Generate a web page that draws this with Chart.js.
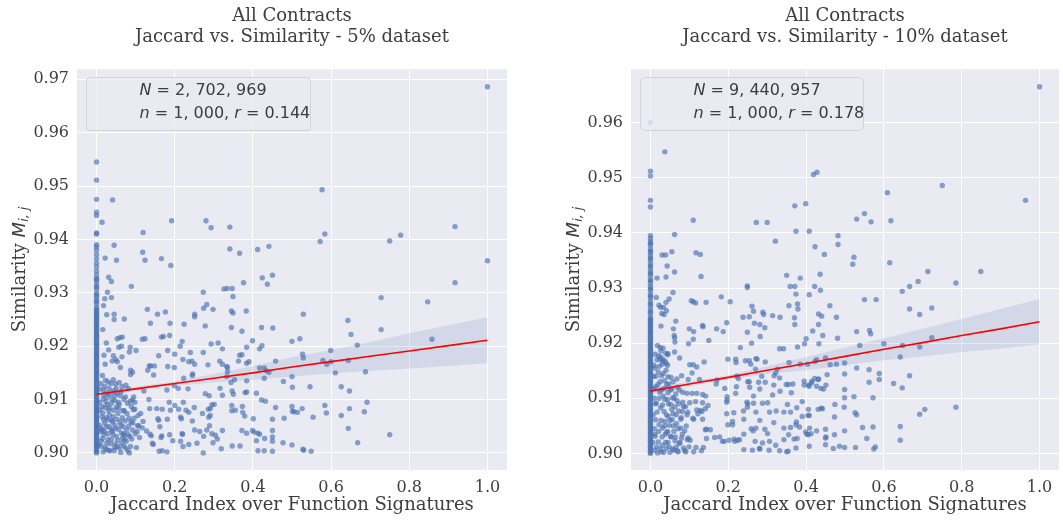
<!DOCTYPE html>
<html>
<head>
<meta charset="utf-8">
<script src="https://cdn.jsdelivr.net/npm/chart.js@4.4.1/dist/chart.umd.min.js"></script>
<style>
  body { margin: 0; background: #fff; width: 1063px; height: 521px; overflow: hidden; position: relative; }
  .pane { position: absolute; top: 0; height: 521px; }
</style>
</head>
<body>
<div class="pane" style="left:0;width:531px"><canvas id="c5" width="531" height="521"></canvas></div>
<div class="pane" style="left:554px;width:509px"><canvas id="c10" width="509" height="521"></canvas></div>
<script>
// ---- data ----
const xTicks = [0.0, 0.2, 0.4, 0.6, 0.8, 1.0];
const yTicks5 = [0.90, 0.91, 0.92, 0.93, 0.94, 0.95, 0.96, 0.97];
const yTicks10 = [0.90, 0.91, 0.92, 0.93, 0.94, 0.95, 0.96];

const titles5 = ["All Contracts", "Jaccard vs. Similarity - 5% dataset"];
const titles10 = ["All Contracts", "Jaccard vs. Similarity - 10% dataset"];
const xLabel = "Jaccard Index over Function Signatures";
// y label: "Similarity M_{i,j}" as text segments
const yLabel = [{ t: "Similarity " }, { t: "M", it: true }, { t: "i, j", it: true, sub: true }];

// annotation text (segments flagged `it` are italic math symbols)
const note5 = [
  [{ t: "N", it: true }, { t: " = 2, 702, 969" }],
  [{ t: "n", it: true }, { t: " = 1, 000, " }, { t: "r", it: true }, { t: " = 0.144" }],
];
const note10 = [
  [{ t: "N", it: true }, { t: " = 9, 440, 957" }],
  [{ t: "n", it: true }, { t: " = 1, 000, " }, { t: "r", it: true }, { t: " = 0.178" }],
];

// regression line + 95% band, sampled at fitX
const fitX = [0, 0.1, 0.2, 0.3, 0.4, 0.5, 0.6, 0.7, 0.8, 0.9, 1.0];
const fit5 = [0.9110, 0.9120, 0.9130, 0.9140, 0.9150, 0.9161, 0.9171, 0.9181, 0.9191, 0.9201, 0.9211];
const hi5  = [0.9116, 0.9124, 0.9134, 0.9148, 0.9163, 0.9179, 0.9193, 0.9208, 0.9224, 0.9239, 0.9254];
const lo5  = [0.9104, 0.9116, 0.9126, 0.9132, 0.9137, 0.9143, 0.9149, 0.9154, 0.9158, 0.9163, 0.9168];
const fit10 = [0.9113, 0.9126, 0.9138, 0.9151, 0.9163, 0.9176, 0.9189, 0.9201, 0.9214, 0.9226, 0.9239];
const hi10  = [0.9119, 0.9130, 0.9142, 0.9158, 0.9175, 0.9192, 0.9209, 0.9226, 0.9244, 0.9262, 0.9280];
const lo10  = [0.9107, 0.9122, 0.9134, 0.9144, 0.9151, 0.9160, 0.9169, 0.9176, 0.9184, 0.9190, 0.9198];

// samples with Jaccard index exactly 0 (dense column on the left edge)
const zero5 = [0.9000, 0.9005, 0.9011, 0.9016, 0.9022, 0.9028, 0.9033, 0.9039, 0.9045, 0.9050, 0.9056, 0.9062,
  0.9067, 0.9073, 0.9079, 0.9084, 0.9090, 0.9096, 0.9101, 0.9107, 0.9113, 0.9118, 0.9124, 0.9130, 0.9135, 0.9141,
  0.9147, 0.9152, 0.9158, 0.9164, 0.9169, 0.9175, 0.9181, 0.9186, 0.9192, 0.9198, 0.9203, 0.9209, 0.9215, 0.9220,
  0.9226, 0.9232, 0.9237, 0.9243, 0.9249, 0.9254, 0.9260, 0.9266, 0.9272, 0.9279, 0.9286, 0.9292, 0.9299, 0.9307,
  0.9314, 0.9321, 0.9327, 0.9334, 0.9341, 0.9349, 0.9356, 0.9364, 0.9372, 0.9380, 0.9386, 0.9390, 0.9410, 0.9412,
  0.9445, 0.9451, 0.9475, 0.9511, 0.9545,
  0.9002, 0.9008, 0.9014, 0.9019, 0.9025, 0.9030, 0.9036, 0.9042, 0.9047, 0.9053, 0.9059, 0.9064, 0.9070, 0.9076,
  0.9081, 0.9087, 0.9093, 0.9098, 0.9104, 0.9110, 0.9115, 0.9121, 0.9127, 0.9133, 0.9138, 0.9144, 0.9150, 0.9155,
  0.9161, 0.9167, 0.9172, 0.9178, 0.9184, 0.9189, 0.9195, 0.9201, 0.9206, 0.9212, 0.9218, 0.9223, 0.9229, 0.9235,
  0.9240, 0.9246, 0.9252, 0.9257, 0.9263, 0.9269, 0.9283, 0.9296, 0.9311, 0.9325];
const zero10 = [0.9000, 0.9005, 0.9011, 0.9016, 0.9022, 0.9027, 0.9033, 0.9038, 0.9044, 0.9049, 0.9055, 0.9060,
  0.9066, 0.9071, 0.9077, 0.9082, 0.9088, 0.9093, 0.9099, 0.9104, 0.9110, 0.9115, 0.9121, 0.9126, 0.9132, 0.9137,
  0.9143, 0.9148, 0.9154, 0.9159, 0.9165, 0.9170, 0.9176, 0.9181, 0.9187, 0.9192, 0.9198, 0.9203, 0.9209, 0.9214,
  0.9220, 0.9225, 0.9231, 0.9236, 0.9242, 0.9247, 0.9254, 0.9261, 0.9268, 0.9275, 0.9282, 0.9289, 0.9296, 0.9303,
  0.9309, 0.9316, 0.9323, 0.9330, 0.9337, 0.9344, 0.9351, 0.9358, 0.9364, 0.9371, 0.9378, 0.9384, 0.9390, 0.9395,
  0.9447, 0.9459, 0.9503, 0.9512, 0.9600,
  0.9002, 0.9008, 0.9013, 0.9019, 0.9024, 0.9030, 0.9035, 0.9041, 0.9046, 0.9052, 0.9057, 0.9063, 0.9068, 0.9074,
  0.9079, 0.9085, 0.9090, 0.9096, 0.9101, 0.9107, 0.9112, 0.9118, 0.9123, 0.9129, 0.9134, 0.9140, 0.9145, 0.9151,
  0.9156, 0.9162, 0.9167, 0.9173, 0.9178, 0.9184, 0.9189, 0.9195, 0.9200, 0.9206, 0.9211, 0.9217, 0.9222, 0.9228,
  0.9233, 0.9239, 0.9244, 0.9257, 0.9271, 0.9285, 0.9299, 0.9313, 0.9327, 0.9340, 0.9354, 0.9367, 0.9381];

// other samples [jaccard, similarity]
const pts5 = [
  [1.0,0.9686],[0.041,0.9474],[0.014,0.9432],[0.577,0.9493],[0.192,0.9435],[0.280,0.9435],[0.293,0.9422],[0.341,0.9423],
  [0.119,0.9413],[0.584,0.941],[0.572,0.9396],[0.917,0.9424],[0.778,0.9408],[0.750,0.9397],[1.0,0.936],[0.045,0.9389],
  [0.022,0.9365],[0.051,0.9361],[0.118,0.9376],[0.124,0.9361],[0.166,0.9364],[0.190,0.9351],[0.341,0.9382],[0.366,0.9374],
  [0.412,0.9381],[0.441,0.9387],[0.424,0.9328],[0.450,0.9333],[0.437,0.9316],[0.376,0.9319],[0.917,0.9319],[0.728,0.9291],
  [0.847,0.9283],[0.031,0.9329],[0.038,0.9321],[0.089,0.9312],[0.028,0.9301],[0.038,0.9291],[0.021,0.9289],[0.018,0.9276],
  [0.326,0.9307],[0.334,0.9308],[0.347,0.9308],[0.273,0.9301],[0.349,0.9293],[0.282,0.9278],[0.274,0.9271],[0.298,0.9269],
  [0.130,0.9269],[0.176,0.9264],[0.156,0.926],[0.251,0.926],[0.251,0.9255],[0.345,0.9266],[0.349,0.9262],[0.383,0.9266],
  [0.529,0.926],[0.045,0.926],[0.026,0.9259],[0.071,0.9251],[0.045,0.925],[0.643,0.9248],[0.138,0.9243],[0.188,0.9243],
  [0.224,0.9241],[0.278,0.9238],[0.345,0.9235],[0.422,0.9235],[0.451,0.9234],[0.372,0.9228],[0.728,0.9231],[0.016,0.9231],
  [0.651,0.9222],[0.187,0.922],[0.171,0.9218],[0.166,0.9217],[0.124,0.9214],[0.117,0.9213],[0.060,0.9216],[0.053,0.9214],
  [0.066,0.9217],[0.520,0.9214],[0.858,0.9213],[0.500,0.9209],[0.399,0.921],[0.219,0.9209],[0.025,0.9206],[0.667,0.9202],
  [0.293,0.9204],[0.311,0.9206],[0.214,0.92],[0.423,0.9201],[0.384,0.9198],[0.417,0.9195],[0.064,0.92],[0.057,0.9198],
  [0.031,0.9193],[0.086,0.9198],[0.101,0.9192],[0.322,0.9195],[0.182,0.9192],[0.084,0.9189],[0.240,0.9188],[0.273,0.9188],
  [0.599,0.9192],[0.527,0.9185],[0.529,0.9178],[0.200,0.9185],[0.159,0.9182],[0.372,0.9184],[0.366,0.9183],[0.019,0.9183],
  [0.043,0.9182],[0.065,0.918],[0.049,0.9175],[0.040,0.9172],[0.053,0.9171],[0.022,0.9166],[0.221,0.9175],[0.236,0.9171],
  [0.244,0.9172],[0.251,0.9166],[0.315,0.9172],[0.322,0.9166],[0.333,0.9162],[0.285,0.9165],[0.384,0.9168],[0.390,0.9171],
  [0.458,0.9172],[0.579,0.9173],[0.589,0.9166],[0.600,0.9171],[0.644,0.9173],[0.363,0.9172],[0.182,0.9162],[0.138,0.9163],
  [0.148,0.9163],[0.087,0.9155],[0.092,0.9151],[0.087,0.9147],[0.061,0.916],[0.015,0.9145],[0.131,0.9155],[0.135,0.9163],
  [0.146,0.9146],[0.335,0.916],[0.417,0.9159],[0.429,0.9159],[0.434,0.9154],[0.441,0.9151],[0.611,0.915],[0.688,0.9152],
  [0.199,0.916],[0.223,0.914],[0.245,0.9145],[0.246,0.9148],[0.333,0.9143],[0.335,0.9152],[0.353,0.9137],[0.384,0.9135],
  [0.429,0.914],[0.5,0.9143],[0.501,0.9123],[0.478,0.9134],[0.546,0.9124],[0.626,0.9124],[0.647,0.9116],[0.692,0.9095],
  [0.584,0.9089],[0.588,0.9075],[0.647,0.9083],[0.685,0.9077],[0.626,0.907],[0.644,0.9046],[0.750,0.9034],[0.668,0.9019],
  [0.554,0.9067],[0.526,0.9083],[0.500,0.9087],[0.501,0.9078],[0.505,0.9077],[0.514,0.9076],[0.480,0.9065],[0.458,0.9085],
  [0.450,0.9063],[0.450,0.9042],[0.450,0.903],[0.450,0.9022],[0.450,0.9003],[0.422,0.9099],[0.432,0.9097],[0.409,0.9112],
  [0.380,0.9113],[0.384,0.9114],[0.347,0.9116],[0.350,0.911],[0.322,0.9108],[0.373,0.9087],[0.379,0.9069],[0.374,0.9076],
  [0.401,0.9064],[0.346,0.9089],[0.346,0.9079],[0.355,0.908],[0.295,0.909],[0.301,0.9091],[0.291,0.9083],[0.286,0.9082],
  [0.287,0.9067],[0.291,0.907],[0.271,0.9074],[0.289,0.9051],[0.282,0.9043],[0.295,0.9036],[0.304,0.9033],[0.309,0.9026],
  [0.274,0.9031],[0.298,0.9019],[0.319,0.9008],[0.273,0.9],[0.347,0.9013],[0.367,0.9013],[0.372,0.9042],[0.384,0.9037],
  [0.399,0.9042],[0.403,0.9039],[0.413,0.9037],[0.417,0.9035],[0.409,0.9023],[0.413,0.9004],[0.429,0.9004],[0.477,0.9019],
  [0.5,0.9015],[0.528,0.9007],[0.530,0.9005],[0.549,0.9003],[0.430,0.9027],[0.322,0.9042],[0.229,0.908],[0.250,0.9085],
  [0.236,0.9076],[0.245,0.906],[0.215,0.9067],[0.217,0.9064],[0.210,0.9082],[0.200,0.9089],[0.189,0.908],[0.181,0.9063],
  [0.168,0.9082],[0.154,0.9083],[0.159,0.9061],[0.157,0.9064],[0.162,0.9049],[0.167,0.9032],[0.165,0.9029],[0.187,0.9034],
  [0.195,0.9023],[0.215,0.9022],[0.219,0.9036],[0.220,0.9035],[0.221,0.9012],[0.257,0.9018],[0.236,0.9016],[0.264,0.904],
  [0.251,0.9043],[0.136,0.9083],[0.134,0.91],[0.121,0.9116],[0.180,0.9118],[0.199,0.9126],[0.209,0.9121],[0.234,0.912],
  [0.222,0.9095],[0.186,0.9095],[0.278,0.9111],[0.288,0.9107],[0.316,0.9121],[0.344,0.9132],[0.113,0.9074],[0.119,0.9059],
  [0.108,0.9051],[0.105,0.9051],[0.117,0.9047],[0.098,0.9082],[0.098,0.9095],[0.095,0.9105],[0.092,0.9099],[0.071,0.9079],
  [0.083,0.9065],[0.093,0.9056],[0.128,0.9041],[0.137,0.9035],[0.143,0.9018],[0.145,0.9016],[0.140,0.9032],[0.160,0.9003],
  [0.168,0.9004],[0.180,0.9002],
  // dense cluster near the origin
  [0.017,0.9101],[0.024,0.9096],[0.028,0.9090],[0.034,0.9084],[0.038,0.9093],[0.047,0.9098],[0.051,0.9086],[0.055,0.9074],
  [0.043,0.9068],[0.030,0.9062],[0.021,0.9055],[0.026,0.9049],[0.038,0.9043],[0.047,0.9052],[0.060,0.9058],[0.068,0.9049],
  [0.077,0.9043],[0.064,0.9037],[0.051,0.9031],[0.038,0.9025],[0.026,0.9018],[0.019,0.9034],[0.013,0.9012],[0.024,0.9006],
  [0.034,0.9004],[0.045,0.9004],[0.053,0.9012],[0.064,0.9018],[0.072,0.9025],[0.081,0.9034],[0.087,0.9012],[0.075,0.9009],
  [0.085,0.9031],[0.092,0.9043],[0.096,0.9065],[0.104,0.9040],[0.089,0.9087],[0.079,0.9093],[0.070,0.9100],[0.061,0.9107],
  [0.053,0.9112],[0.043,0.9116],[0.032,0.9121],[0.021,0.9125],[0.030,0.9133],[0.043,0.9137],[0.037,0.9130],[0.049,0.9129],
  [0.058,0.9132],[0.065,0.9124],[0.075,0.9127],[0.081,0.9121],[0.028,0.9112],[0.019,0.9109],[0.014,0.9087],[0.014,0.9068],
  [0.015,0.9043],[0.015,0.9027],[0.017,0.9002],[0.009,0.9080],[0.008,0.9120],[0.010,0.9040],[0.033,0.9071],[0.058,0.9091],
  [0.066,0.9066],[0.041,0.9058],[0.029,0.9036],[0.056,0.9044],[0.071,0.9033],[0.048,0.9017],[0.062,0.9001],[0.080,0.9004],
  [0.006,0.9015],[0.007,0.9052],[0.008,0.9095],[0.011,0.9130],[0.012,0.9022],[0.016,0.9075],[0.018,0.9118],[0.020,0.9040],
  [0.022,0.9085],[0.023,0.9010],[0.025,0.9066],[0.027,0.9104],[0.029,0.9025],[0.031,0.9079],[0.032,0.9005],[0.033,0.9049],
  [0.035,0.9110],[0.036,0.9017],[0.039,0.9061],[0.040,0.9101],[0.042,0.9034],[0.044,0.9080],[0.046,0.9010],[0.048,0.9046],
  [0.050,0.9121],[0.052,0.9063],[0.054,0.9024],[0.057,0.9083],[0.059,0.9009],[0.062,0.9052],[0.063,0.9115],[0.066,0.9027],
  [0.068,0.9079],[0.070,0.9013],[0.073,0.9060],[0.074,0.9105],[0.076,0.9022],[0.078,0.9074],[0.082,0.9050],[0.084,0.9000],
  [0.086,0.9097],[0.090,0.9026],[0.094,0.9081],[0.099,0.9036],[0.102,0.9010],[0.106,0.9070],[0.110,0.9029],[0.012,0.9046],
  [0.018,0.9062],[0.041,0.9040],[0.056,0.9095],[0.023,0.9136],[0.047,0.9107],[0.069,0.9036],[0.088,0.9058],
];

const pts10 = [
  [1.0,0.9665],[0.037,0.9547],[0.419,0.9506],[0.428,0.951],[0.75,0.9486],[0.609,0.9473],[0.964,0.9459],[0.399,0.9453],
  [0.371,0.9449],[0.55,0.9435],[0.53,0.9425],[0.567,0.942],[0.618,0.9422],[0.110,0.9423],[0.272,0.9419],[0.300,0.9419],
  [0.374,0.9403],[0.408,0.9403],[0.482,0.9395],[0.062,0.9397],[0.321,0.9385],[0.482,0.9379],[0.423,0.9375],[0.117,0.9364],
  [0.128,0.9361],[0.030,0.936],[0.039,0.936],[0.055,0.9366],[0.447,0.9361],[0.523,0.9356],[0.043,0.934],[0.520,0.9343],
  [0.615,0.9346],[0.062,0.9329],[0.040,0.932],[0.017,0.9318],[0.130,0.9321],[0.713,0.933],[0.849,0.933],[0.350,0.9323],
  [0.385,0.9318],[0.436,0.9325],[0.249,0.9304],[0.249,0.9301],[0.359,0.9303],[0.371,0.9303],[0.422,0.9303],[0.437,0.9296],
  [0.374,0.9289],[0.408,0.9288],[0.785,0.9309],[0.688,0.9312],[0.666,0.9303],[0.647,0.9294],[0.058,0.9292],[0.015,0.9283],
  [0.048,0.928],[0.040,0.9274],[0.182,0.9284],[0.205,0.9275],[0.105,0.9277],[0.110,0.9275],[0.116,0.9273],[0.143,0.9274],
  [0.550,0.9279],[0.580,0.9279],[0.022,0.9269],[0.026,0.9265],[0.034,0.9265],[0.261,0.9267],[0.265,0.9258],[0.356,0.9268],
  [0.378,0.9271],[0.379,0.9262],[0.461,0.9268],[0.666,0.9262],[0.723,0.9264],[0.029,0.9254],[0.035,0.9252],[0.041,0.9259],
  [0.289,0.9256],[0.291,0.9252],[0.314,0.925],[0.333,0.9247],[0.238,0.9247],[0.254,0.9248],[0.432,0.9253],[0.440,0.9249],
  [0.478,0.9247],[0.692,0.9252],[0.065,0.924],[0.027,0.9231],[0.196,0.9237],[0.267,0.9236],[0.281,0.9234],[0.294,0.9228],
  [0.370,0.9246],[0.371,0.9234],[0.432,0.9234],[0.134,0.9232],[0.135,0.923],[0.100,0.9226],[0.111,0.9221],[0.059,0.9226],
  [0.170,0.9226],[0.187,0.9221],[0.249,0.922],[0.417,0.9222],[0.530,0.9221],[0.563,0.9223],[0.566,0.9217],[0.061,0.9214],
  [0.062,0.921],[0.282,0.9212],[0.110,0.9207],[0.150,0.9205],[0.443,0.9214],[0.481,0.9209],[0.723,0.921],[0.400,0.9208],
  [0.396,0.9199],[0.433,0.9199],[0.600,0.9199],[0.538,0.9196],[0.063,0.9202],[0.260,0.92],[0.098,0.9199],[0.648,0.9196],
  [0.692,0.9193],[0.018,0.9196],[0.025,0.9192],[0.032,0.9191],[0.378,0.9193],[0.332,0.919],[0.342,0.919],[0.231,0.9192],
  [0.027,0.9186],[0.039,0.9182],[0.021,0.9177],[0.025,0.9171],[0.032,0.9171],[0.032,0.9167],[0.038,0.9167],[0.041,0.9163],
  [0.045,0.9181],[0.044,0.9179],[0.062,0.9184],[0.075,0.9173],[0.642,0.9175],[0.199,0.9171],[0.219,0.9171],[0.220,0.9165],
  [0.244,0.9168],[0.254,0.9168],[0.258,0.9162],[0.271,0.9172],[0.274,0.9171],[0.295,0.9166],[0.427,0.917],[0.423,0.9167],
  [0.450,0.9173],[0.138,0.9166],[0.356,0.9165],[0.385,0.9162],[0.404,0.9162],[0.462,0.9161],[0.478,0.9162],[0.499,0.9164],
  [0.101,0.9161],[0.110,0.9161],[0.119,0.9157],[0.270,0.9153],[0.326,0.9153],[0.322,0.9146],[0.530,0.9155],[0.562,0.9152],
  [0.588,0.9145],[0.107,0.9146],[0.080,0.9141],[0.068,0.9135],[0.045,0.9139],[0.053,0.9138],[0.499,0.9144],[0.454,0.9143],
  [0.666,0.9141],[0.222,0.914],[0.126,0.9134],[0.097,0.9134],[0.171,0.9133],[0.226,0.9136],[0.286,0.914],[0.318,0.9141],
  [0.332,0.9137],[0.422,0.9136],[0.432,0.9135],[0.431,0.9134],[0.415,0.9131],[0.414,0.9128],[0.451,0.9124],[0.395,0.9131],
  [0.588,0.9134],[0.562,0.9129],[0.625,0.9127],[0.647,0.9119],[0.250,0.913],[0.254,0.913],[0.278,0.9129],[0.295,0.9129],
  [0.317,0.9124],[0.349,0.9125],[0.355,0.9125],[0.366,0.9126],[0.395,0.9124],[0.406,0.9124],[0.408,0.9122],[0.427,0.9122],
  [0.438,0.9118],[0.445,0.9117],[0.499,0.9116],[0.169,0.9126],[0.191,0.9118],[0.221,0.9121],[0.255,0.912],[0.281,0.9117],
  [0.333,0.9113],[0.362,0.911],[0.094,0.9109],[0.107,0.9109],[0.119,0.9109],[0.134,0.9107],[0.142,0.9104],[0.197,0.9103],
  [0.219,0.9109],[0.265,0.9104],[0.314,0.9106],[0.390,0.9094],[0.499,0.9101],[0.523,0.9103],[0.572,0.9101],[0.083,0.9093],
  [0.101,0.9092],[0.116,0.9094],[0.134,0.9092],[0.196,0.9093],[0.197,0.9097],[0.248,0.9093],[0.250,0.909],[0.249,0.9084],
  [0.265,0.9091],[0.288,0.9091],[0.301,0.9092],[0.352,0.9089],[0.376,0.9083],[0.406,0.908],[0.405,0.9069],[0.431,0.908],
  [0.439,0.9082],[0.442,0.9081],[0.474,0.9089],[0.498,0.9084],[0.526,0.9074],[0.530,0.907],[0.692,0.9071],[0.705,0.908],
  [0.785,0.9084],[0.082,0.9076],[0.094,0.9070],[0.119,0.9079],[0.122,0.9072],[0.128,0.9078],[0.132,0.9076],[0.141,0.9081],
  [0.148,0.9087],[0.109,0.9064],[0.111,0.9062],[0.134,0.9062],[0.196,0.9072],[0.214,0.9074],[0.239,0.9077],[0.271,0.9075],
  [0.306,0.9075],[0.323,0.9077],[0.343,0.9075],[0.360,0.9075],[0.390,0.9067],[0.408,0.9069],[0.473,0.9066],[0.211,0.9058],
  [0.240,0.9062],[0.281,0.906],[0.317,0.9056],[0.375,0.9057],[0.374,0.9052],[0.383,0.9048],[0.360,0.9047],[0.343,0.9046],
  [0.211,0.9052],[0.199,0.9052],[0.259,0.9045],[0.264,0.9041],[0.271,0.9046],[0.294,0.9044],[0.301,0.9036],[0.399,0.9039],
  [0.402,0.9035],[0.406,0.9034],[0.413,0.9036],[0.409,0.9046],[0.427,0.9041],[0.450,0.9044],[0.451,0.903],[0.450,0.9028],
  [0.450,0.9016],[0.473,0.9034],[0.499,0.9041],[0.545,0.9047],[0.572,0.9048],[0.556,0.9027],[0.642,0.9049],[0.642,0.9024],
  [0.141,0.9043],[0.144,0.9044],[0.154,0.9043],[0.165,0.9029],[0.178,0.903],[0.144,0.9027],[0.185,0.9022],[0.190,0.9022],
  [0.202,0.9024],[0.215,0.9026],[0.217,0.9022],[0.224,0.9024],[0.229,0.9025],[0.240,0.9035],[0.269,0.9022],[0.288,0.9019],
  [0.306,0.9022],[0.322,0.9015],[0.343,0.9025],[0.369,0.9026],[0.355,0.9034],[0.377,0.9027],[0.240,0.9007],[0.262,0.9006],
  [0.280,0.9009],[0.281,0.9008],[0.305,0.9006],[0.332,0.9005],[0.350,0.9003],[0.354,0.9004],[0.374,0.901],[0.408,0.9013],
  [0.470,0.9009],[0.486,0.9013],[0.499,0.9011],[0.527,0.9011],[0.574,0.9008],[0.578,0.9012],[0.091,0.9003],[0.111,0.9003],
  [0.131,0.9005],[0.117,0.9011],[0.136,0.9011],[0.097,0.9028],[0.102,0.9024],
  // dense cluster near the origin
  [0.012,0.9155],[0.020,0.9148],[0.028,0.9141],[0.036,0.9132],[0.047,0.9126],[0.055,0.9117],[0.014,0.9121],[0.024,0.9111],
  [0.033,0.9104],[0.044,0.9098],[0.052,0.9089],[0.063,0.9085],[0.072,0.9077],[0.015,0.9091],[0.026,0.9083],[0.035,0.9076],
  [0.046,0.9067],[0.056,0.9061],[0.067,0.9054],[0.078,0.9046],[0.088,0.9041],[0.013,0.9061],[0.022,0.9052],[0.031,0.9046],
  [0.042,0.9038],[0.052,0.9031],[0.063,0.9023],[0.074,0.9018],[0.085,0.9010],[0.012,0.9031],[0.020,0.9021],[0.031,0.9015],
  [0.040,0.9009],[0.050,0.9002],[0.060,0.9006],[0.071,0.9003],[0.011,0.9006],[0.018,0.9001],[0.028,0.9003],[0.038,0.9035],
  [0.048,0.9051],[0.058,0.9072],[0.068,0.9096],[0.078,0.9062],[0.090,0.9085],[0.095,0.9025],[0.083,0.9111],[0.065,0.9108],
  [0.040,0.9151],[0.030,0.9162],[0.017,0.9170],[0.009,0.9100],[0.008,0.9140],[0.010,0.9045],[0.035,0.9118],[0.057,0.9101],
  [0.070,0.9120],[0.045,0.9110],[0.025,0.9130],[0.060,0.9040],[0.045,0.9020],[0.080,0.9028],[0.066,0.9012],[0.037,0.9058],
  [0.006,0.9020],[0.007,0.9070],[0.008,0.9118],[0.009,0.9160],[0.011,0.9035],[0.013,0.9090],[0.014,0.9140],[0.016,0.9012],
  [0.017,0.9075],[0.019,0.9125],[0.021,0.9040],[0.022,0.9100],[0.023,0.9158],[0.025,0.9008],[0.027,0.9060],[0.028,0.9115],
  [0.030,0.9030],[0.031,0.9088],[0.033,0.9145],[0.034,0.9002],[0.036,0.9050],[0.037,0.9098],[0.039,0.9020],[0.041,0.9070],
  [0.042,0.9125],[0.044,0.9040],[0.046,0.9090],[0.048,0.9012],[0.050,0.9060],[0.051,0.9115],[0.053,0.9030],[0.055,0.9080],
  [0.057,0.9008],[0.059,0.9050],[0.061,0.9100],[0.064,0.9030],[0.066,0.9070],[0.069,0.9005],[0.071,0.9045],[0.073,0.9090],
  [0.076,0.9020],[0.079,0.9065],[0.082,0.9035],[0.085,0.9085],[0.088,0.9005],[0.092,0.9050],[0.096,0.9075],[0.099,0.9012],
  [0.026,0.9175],[0.044,0.9160],[0.012,0.9180],[0.058,0.9130],[0.074,0.9115],
];

const TEXT = "#3d3d3d";

// ---- plugins ----
const bgPlugin = {
  id: "bg",
  beforeDraw(chart) {
    const { ctx, chartArea: a } = chart;
    ctx.save();
    ctx.fillStyle = "#EAEAF2";
    ctx.fillRect(a.left, a.top, a.width, a.height);
    ctx.restore();
  },
};

// mixed upright/italic/subscript text runs
function runFont(s, size) {
  const sz = s.sub ? size * 0.7 : size;
  const fam = s.serif ? "'DejaVu Serif'" : "'DejaVu Sans'";
  return (s.it ? "italic " : "") + sz + "px " + fam;
}
function drawRuns(ctx, runs, x, y, size) {
  runs.forEach((s) => {
    ctx.font = runFont(s, size);
    ctx.fillText(s.t, x, y + (s.sub ? size * 0.28 : 0));
    x += ctx.measureText(s.t).width;
  });
}
function runsWidth(ctx, runs, size) {
  let w = 0;
  runs.forEach((s) => { ctx.font = runFont(s, size); w += ctx.measureText(s.t).width; });
  return w;
}

const notePlugin = {
  id: "note",
  afterDraw(chart, args, o) {
    const a = chart.chartArea, ctx = chart.ctx;
    const x = Math.round(a.left + o.left) + 0.5, y = Math.round(a.top + o.top) + 0.5;
    ctx.save();
    ctx.beginPath();
    ctx.roundRect(x, y, o.width, o.height, 4);
    ctx.fillStyle = "rgba(234,234,242,0.8)";
    ctx.fill();
    ctx.strokeStyle = "#d3d3db";
    ctx.lineWidth = 1;
    ctx.stroke();
    ctx.fillStyle = TEXT;
    ctx.textBaseline = "middle";
    o.lines.forEach((segs, i) => drawRuns(ctx, segs, x + o.textLeft, y + o.lineY[i], 16));
    ctx.restore();
  },
};

// rotated y-axis label with math subscript
const yLabPlugin = {
  id: "ylab",
  afterDraw(chart, args, o) {
    const a = chart.chartArea, ctx = chart.ctx;
    const runs = yLabel.map((s) => Object.assign({ serif: !s.it && !s.sub }, s));
    ctx.save();
    ctx.translate(o.x, (a.top + a.bottom) / 2);
    ctx.rotate(-Math.PI / 2);
    ctx.fillStyle = TEXT;
    ctx.textBaseline = "middle";
    const w = runsWidth(ctx, runs, 18);
    drawRuns(ctx, runs, -w / 2, 0, 18);
    ctx.restore();
  },
};

Chart.defaults.font.family = "'DejaVu Serif', serif";
Chart.defaults.color = TEXT;

function makeChart(id, cfg) {
  const line = (ys, extra) => Object.assign({
    type: "line", showLine: true, pointRadius: 0, borderWidth: 0, borderColor: "transparent",
    data: fitX.map((x, i) => ({ x, y: ys[i] })),
  }, extra);

  return new Chart(document.getElementById(id), {
    type: "scatter",
    data: {
      datasets: [
        line(cfg.fit, { borderColor: "#ff0000", borderWidth: 1.6, fill: false }),
        line(cfg.hi, { fill: false }),
        line(cfg.lo, { fill: "-1", backgroundColor: "rgba(76,114,176,0.15)" }),
        {
          type: "scatter",
          data: [...cfg.zero.map((y) => ({ x: 0, y })), ...cfg.pts.map(([x, y]) => ({ x, y }))],
          backgroundColor: "rgba(76,114,176,0.65)",
          borderWidth: 0,
          pointRadius: 2.7,
        },
      ],
    },
    options: {
      responsive: false,
      animation: false,
      layout: { padding: { left: 0, right: cfg.padRight, top: 0, bottom: 0 } },
      plugins: {
        legend: { display: false },
        tooltip: { enabled: false },
        title: {
          display: true, text: cfg.title, fullSize: false,
          font: { size: 18, weight: "normal", lineHeight: 1.17 },
          color: TEXT, padding: { top: 6, bottom: 21 },
        },
        note: { left: 9, top: 8, width: cfg.noteW, height: 53, textLeft: 53, lineY: [13, 36], lines: cfg.note },
        ylab: { x: 20 },
      },
      scales: {
        x: {
          type: "linear", min: -0.05, max: 1.05,
          afterBuildTicks: (s) => { s.ticks = xTicks.map((v) => ({ value: v })); },
          afterFit: (s) => { s.height = 51; },
          ticks: { callback: (v) => v.toFixed(1), font: { size: 16 }, color: TEXT, padding: 8, maxRotation: 0 },
          grid: { color: "#ffffff", lineWidth: 1, drawTicks: false },
          border: { display: false },
          title: { display: true, text: xLabel, font: { size: 18 }, color: TEXT, padding: { top: 0, bottom: 5 } },
        },
        y: {
          type: "linear", min: cfg.yMin, max: cfg.yMax,
          afterBuildTicks: (s) => { s.ticks = cfg.yTicks.map((v) => ({ value: v })); },
          afterFit: (s) => { s.width = 77; },
          ticks: { callback: (v) => v.toFixed(2), font: { size: 16 }, color: TEXT, padding: 8 },
          grid: { color: "#ffffff", lineWidth: 1, drawTicks: false },
          border: { display: false },
          title: { display: false },
        },
      },
    },
    plugins: [bgPlugin, notePlugin, yLabPlugin],
  });
}

makeChart("c5", {
  title: titles5, pts: pts5, zero: zero5, fit: fit5, hi: hi5, lo: lo5,
  yTicks: yTicks5, yMin: 0.8968, yMax: 0.9719, padRight: 24, noteW: 224, note: note5,
});
makeChart("c10", {
  title: titles10, pts: pts10, zero: zero10, fit: fit10, hi: hi10, lo: lo10,
  yTicks: yTicks10, yMin: 0.8970, yMax: 0.9697, padRight: 4, noteW: 223, note: note10,
});
</script>
</body>
</html>
